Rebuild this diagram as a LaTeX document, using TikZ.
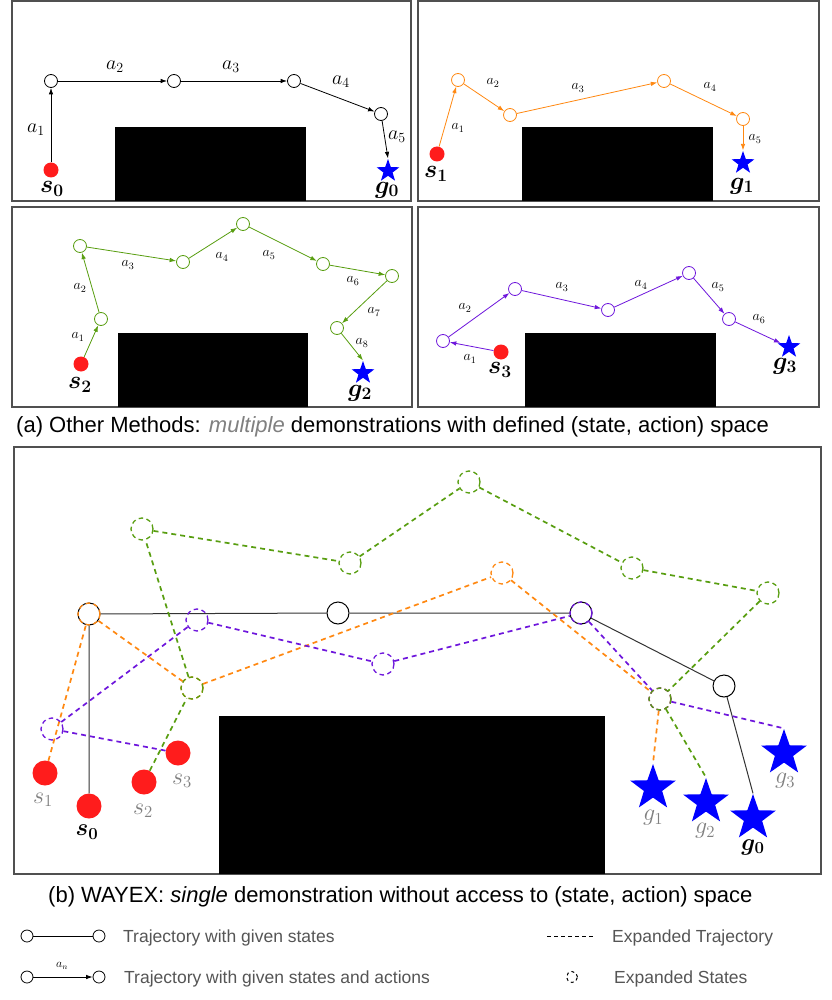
\RequirePackage{fix-cm}
\documentclass[tikz,border=0pt]{standalone}
\usepackage{amsmath,bm}
\usepackage{fontspec}
\newfontfamily\arialf{Liberation Sans}
\usetikzlibrary{arrows.meta,shapes.geometric}
\definecolor{cOr}{RGB}{255,136,17}
\definecolor{cGr}{RGB}{88,158,16}
\definecolor{cPu}{RGB}{110,22,220}
\definecolor{cGy}{RGB}{128,128,128}
\definecolor{cLg}{RGB}{85,85,85}
\definecolor{cFr}{RGB}{80,80,80}
\definecolor{cRd}{RGB}{255,28,28}
\tikzset{
  frame/.style={draw=cFr, line width=1.2pt},
  st/.style={circle, draw, fill=white, minimum size=13pt, inner sep=0pt, line width=0.8pt},
  dotS/.style={circle, fill=cRd, minimum size=15pt, inner sep=0pt},
  dotB/.style={circle, fill=cRd, minimum size=25pt, inner sep=0pt},
  starS/.style={star, star points=5, star point ratio=2.5, fill=blue, minimum size=24pt, inner sep=0pt},
  starB/.style={star, star points=5, star point ratio=2.5, fill=blue, minimum size=48pt, inner sep=0pt},
  arr/.style={-{Latex[length=6.5pt,width=4.5pt]}, line width=0.8pt},
  lblA/.style={font=\fontsize{20}{22}\selectfont, inner sep=0pt},
  lblB/.style={font=\fontsize{14}{16}\selectfont, inner sep=0pt},
  sg/.style={font=\fontsize{25}{28}\selectfont, inner sep=0pt},
  sgb/.style={font=\fontsize{24}{27}\selectfont, inner sep=0pt},
  dline/.style={dash pattern=on 5pt off 4pt, line width=1.7pt},
  dst/.style={circle, minimum size=22pt, inner sep=0pt, dash pattern=on 4.5pt off 3.5pt, line width=1.3pt},
  bst/.style={circle, draw=black, minimum size=22pt, inner sep=0pt, line width=1pt},
  captxt/.style={font=\arialf\fontsize{22}{26}\selectfont, inner sep=0pt, anchor=base west},
  leg/.style={font=\arialf\fontsize{17.5}{20}\selectfont, text=cLg, inner sep=0pt, anchor=base west},
}
\begin{document}
\begin{tikzpicture}[x=1pt,y=-1pt]
\useasboundingbox (0,0) rectangle (831,1000);
\fill[white] (0,0) rectangle (831,1000);

% ---------- Panel 1 ----------
\draw[frame] (12,1) rectangle (411,201);
\fill (115,127) rectangle (306,201);
\node[dotS] (p1s) at (51,170) {};
\node[st] (p1a) at (51,81) {};
\node[st] (p1b) at (174,81) {};
\node[st] (p1c) at (294,81) {};
\node[st] (p1d) at (381,114) {};
\node[starS] (p1g) at (388,171) {};
\draw[arr] (p1s) -- (p1a);
\draw[arr] (p1a) -- (p1b);
\draw[arr] (p1b) -- (p1c);
\draw[arr] (p1c) -- (p1d);
\draw[arr] (p1d) -- (p1g.north);
\node[lblA] (p1l1) at (36,130) {$a_1$};
\node[lblA] (p1l2) at (115,67) {$a_2$};
\node[lblA] (p1l3) at (231,67) {$a_3$};
\node[lblA] (p1l4) at (341,82) {$a_4$};
\node[lblA] (p1l5) at (397,137) {$a_5$};
\node[sg] (p1sl) at (52,189) {$\boldsymbol{s_0}$};
\node[sg] (p1gl) at (387,190) {$\boldsymbol{g_0}$};

% ---------- Panel 2 ----------
\draw[frame] (418,1) rectangle (819,201);
\fill (522,127) rectangle (713,201);
\node[dotS] (p2s) at (437,154) {};
\node[st,draw=cOr] (p2a) at (458,80) {};
\node[st,draw=cOr] (p2b) at (510,115) {};
\node[st,draw=cOr] (p2c) at (664,81) {};
\node[st,draw=cOr] (p2d) at (743,119) {};
\node[starS] (p2g) at (743,163) {};
\draw[arr,cOr] (p2s) -- (p2a);
\draw[arr,cOr] (p2a) -- (p2b);
\draw[arr,cOr] (p2b) -- (p2c);
\draw[arr,cOr] (p2c) -- (p2d);
\draw[arr,cOr] (p2d) -- (p2g.north);
\node[lblB] (p2l1) at (458,128) {$a_1$};
\node[lblB] (p2l2) at (493,83) {$a_2$};
\node[lblB] (p2l3) at (578,88) {$a_3$};
\node[lblB] (p2l4) at (710,87) {$a_4$};
\node[lblB] (p2l5) at (755,139) {$a_5$};
\node[sg] (p2sl) at (436,174) {$\boldsymbol{s_1}$};
\node[sg] (p2gl) at (742,186) {$\boldsymbol{g_1}$};

% ---------- Panel 3 ----------
\draw[frame] (12,207) rectangle (412,407);
\fill (118,333) rectangle (308,407);
\node[dotS] (p3s) at (81,364) {};
\node[st,draw=cGr] (p3a) at (101,319) {};
\node[st,draw=cGr] (p3b) at (80,246) {};
\node[st,draw=cGr] (p3c) at (183,262) {};
\node[st,draw=cGr] (p3d) at (243,224) {};
\node[st,draw=cGr] (p3e) at (323,264) {};
\node[st,draw=cGr] (p3f) at (392,276) {};
\node[st,draw=cGr] (p3h) at (337,328) {};
\node[starS] (p3g) at (363,373) {};
\draw[arr,cGr] (p3s) -- (p3a);
\draw[arr,cGr] (p3a) -- (p3b);
\draw[arr,cGr] (p3b) -- (p3c);
\draw[arr,cGr] (p3c) -- (p3d);
\draw[arr,cGr] (p3d) -- (p3e);
\draw[arr,cGr] (p3e) -- (p3f);
\draw[arr,cGr] (p3f) -- (p3h);
\draw[arr,cGr] (p3h) -- (p3g.north);
\node[lblB] (p3l1) at (78,337) {$a_1$};
\node[lblB] (p3l2) at (80,288) {$a_2$};
\node[lblB] (p3l3) at (128,265) {$a_3$};
\node[lblB] (p3l4) at (222,257) {$a_4$};
\node[lblB] (p3l5) at (269,255) {$a_5$};
\node[lblB] (p3l6) at (353,281) {$a_6$};
\node[lblB] (p3l7) at (374,312) {$a_7$};
\node[lblB] (p3l8) at (362,343) {$a_8$};
\node[sg] (p3sl) at (80,385) {$\boldsymbol{s_2}$};
\node[sg] (p3gl) at (360,393) {$\boldsymbol{g_2}$};

% ---------- Panel 4 ----------
\draw[frame] (418,207) rectangle (819,407);
\fill (525,333) rectangle (716,407);
\node[dotS] (p4s) at (501,352) {};
\node[st,draw=cPu] (p4a) at (443,341) {};
\node[st,draw=cPu] (p4b) at (515,289) {};
\node[st,draw=cPu] (p4c) at (608,310) {};
\node[st,draw=cPu] (p4d) at (689,273) {};
\node[st,draw=cPu] (p4e) at (729,319) {};
\node[starS] (p4g) at (789,347) {};
\draw[arr,cPu] (p4s) -- (p4a);
\draw[arr,cPu] (p4a) -- (p4b);
\draw[arr,cPu] (p4b) -- (p4c);
\draw[arr,cPu] (p4c) -- (p4d);
\draw[arr,cPu] (p4d) -- (p4e);
\draw[arr,cPu] (p4e) -- (p4g);
\node[lblB] (p4l1) at (470,359) {$a_1$};
\node[lblB] (p4l2) at (465,308) {$a_2$};
\node[lblB] (p4l3) at (562,287) {$a_3$};
\node[lblB] (p4l4) at (641,285) {$a_4$};
\node[lblB] (p4l5) at (718,287) {$a_5$};
\node[lblB] (p4l6) at (759,319) {$a_6$};
\node[sg] (p4sl) at (500,370) {$\boldsymbol{s_3}$};
\node[sg] (p4gl) at (785,366) {$\boldsymbol{g_3}$};

% ---------- Caption (a) ----------
\node[captxt] (capa) at (16,432) {(a) Other Methods: {\itshape\color{cGy}multiple} demonstrations with defined (state, action) space};

% ---------- Bottom panel ----------
\draw[frame] (14,447) rectangle (821,874);
\fill (219,716) rectangle (605,874);

\node[dotB] (s0) at (89,806) {};
\node[dotB] (s1) at (45,773) {};
\node[dotB] (s2) at (144,782) {};
\node[dotB] (s3) at (178,753) {};
\node[starB] (g0) at (753,818) {};
\node[starB] (g1) at (653,788) {};
\node[starB] (g2) at (706,802) {};
\node[starB] (g3) at (784,753) {};

% given-state trajectory (black)
\node[bst] (B1) at (89,614) {};
\node[bst] (B2) at (338,613) {};
\node[bst] (B3) at (581,613) {};
\node[bst] (B4) at (724,686) {};
\draw[line width=1pt, draw=black!80] (s0) -- (B1) -- (B2) -- (B3) -- (B4) -- (g0.north);

% orange
\node[dst,draw=cOr] (O1) at (89,614) {};
\node[dst,draw=cOr] (O2) at (192,688) {};
\node[dst,draw=cOr] (O3) at (502,573) {};
\node[dst,draw=cOr] (O4) at (660,699) {};
\draw[dline,cOr] (s1) -- (O1) -- (O2) -- (O3) -- (O4) -- (g1.north);

% purple
\node[dst,draw=cPu] (P1) at (52,729) {};
\node[dst,draw=cPu] (P2) at (197,620) {};
\node[dst,draw=cPu] (P3) at (383,664) {};
\node[dst,draw=cPu] (P4) at (581,613) {};
\node[dst,draw=cPu] (P5) at (660,699) {};
\draw[dline,cPu] (s3) -- (P1) -- (P2) -- (P3) -- (P4) -- (P5) -- (g3.north);

% green
\node[dst,draw=cGr] (G1) at (192,688) {};
\node[dst,draw=cGr] (G2) at (142,529) {};
\node[dst,draw=cGr] (G3) at (350,563) {};
\node[dst,draw=cGr] (G4) at (469,482) {};
\node[dst,draw=cGr] (G5) at (632,568) {};
\node[dst,draw=cGr] (G6) at (768,593) {};
\node[dst,draw=cGr] (G7) at (660,699) {};
\draw[dline,cGr] (s2) -- (G1) -- (G2) -- (G3) -- (G4) -- (G5) -- (G6) -- (G7) -- (g2.north);

% labels
\node[sgb,text=cGy] (s1l) at (43,800) {$s_1$};
\node[sgb] (s0l) at (87,832) {$\boldsymbol{s_0}$};
\node[sgb,text=cGy] (s2l) at (143,811) {$s_2$};
\node[sgb,text=cGy] (s3l) at (182,781) {$s_3$};
\node[sgb,text=cGy] (g1l) at (653,818) {$g_1$};
\node[sgb,text=cGy] (g2l) at (705,831) {$g_2$};
\node[sgb] (g0l) at (753,847) {$\boldsymbol{g_0}$};
\node[sgb,text=cGy] (g3l) at (785,781) {$g_3$};

% ---------- Caption (b) ----------
\node[captxt] (capb) at (48,902) {(b) WAYEX: {\itshape single} demonstration without access to (state, action) space};

% ---------- Legend ----------
\node[st, minimum size=12pt] (L1a) at (27,936) {};
\node[st, minimum size=12pt] (L1b) at (99,936) {};
\draw[line width=0.8pt] (L1a) -- (L1b);
\node[leg] (L1t) at (123,942) {Trajectory with given states};
\node[st, minimum size=12pt] (L2a) at (27,977) {};
\node[st, minimum size=12pt] (L2b) at (99,977) {};
\draw[arr] (L2a) -- (L2b);
\node[font=\fontsize{12}{14}\selectfont, inner sep=0pt] (L2n) at (62,966) {$a_n$};
\node[leg] (L2t) at (124,983) {Trajectory with given states and actions};
\coordinate (L3a) at (547,936);
\coordinate (L3b) at (593,936);
\draw[dash pattern=on 4pt off 3pt, line width=1pt] (L3a) -- (L3b);
\node[leg] (L3t) at (612,942) {Expanded Trajectory};
\node[circle, draw, dash pattern=on 3pt off 3pt, line width=1pt, minimum size=11pt, inner sep=0pt] (L4c) at (572,977) {};
\node[leg] (L4t) at (614,983) {Expanded States};
\end{tikzpicture}
\end{document}
